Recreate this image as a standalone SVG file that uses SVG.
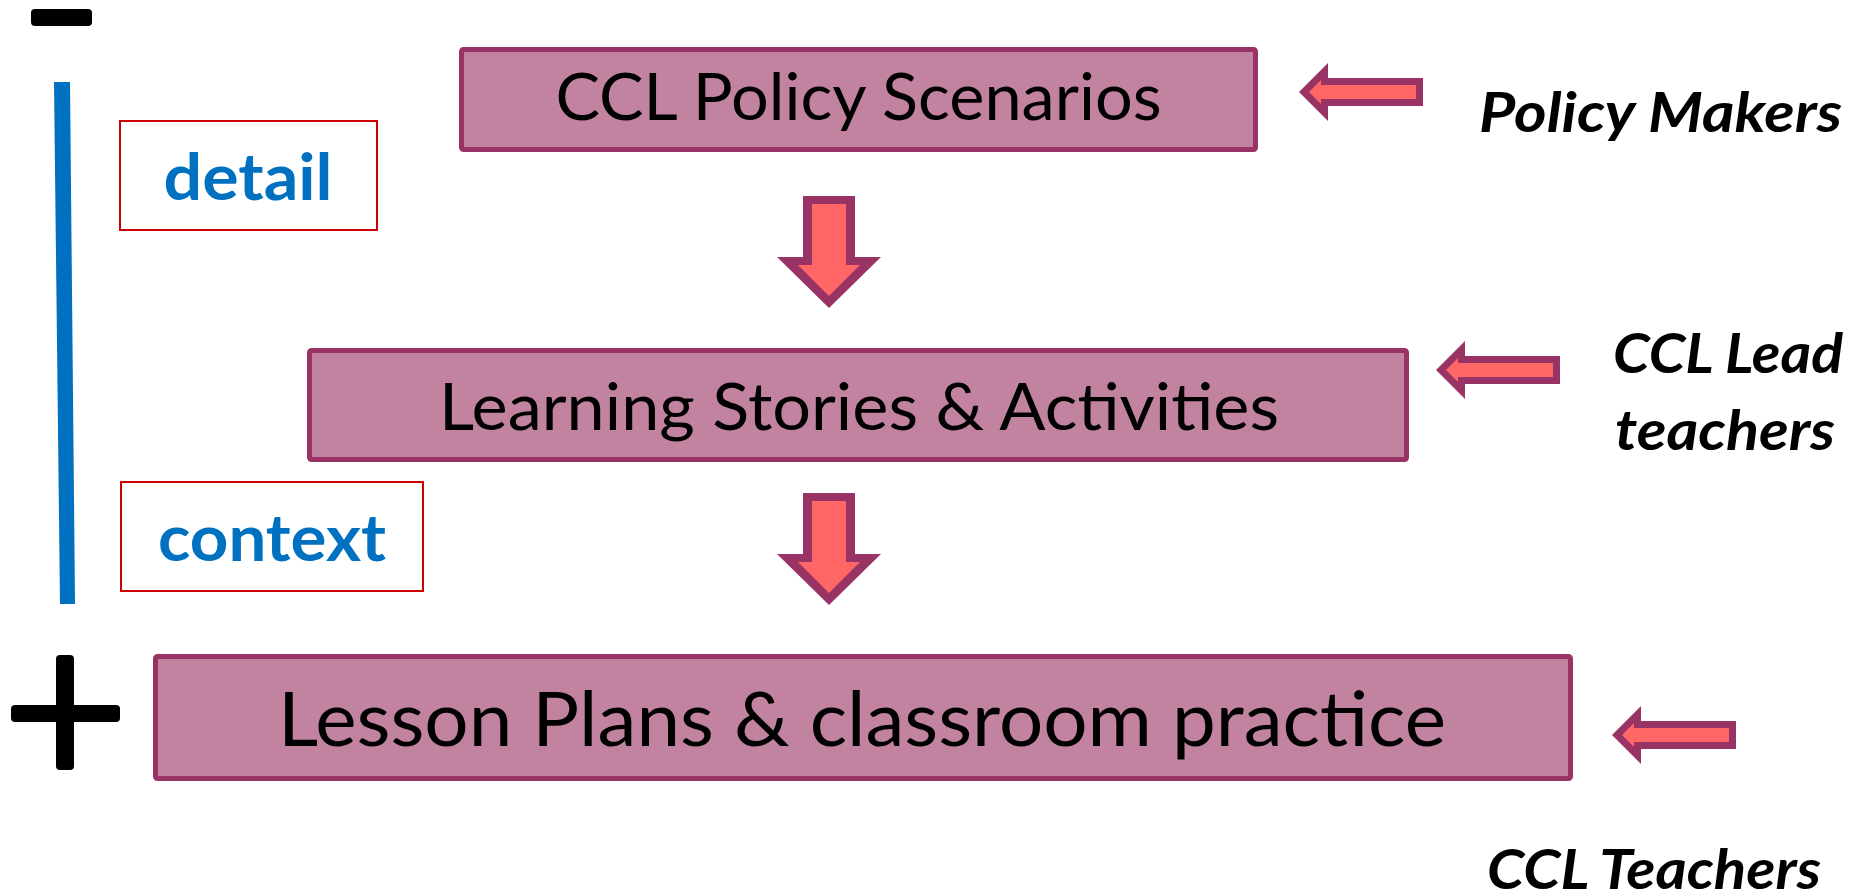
<svg xmlns="http://www.w3.org/2000/svg" xmlns:xlink="http://www.w3.org/1999/xlink" width="1858" height="894" viewBox="0 0 1858 894">
<style>
.box{fill:#C1839F;stroke:#993366;stroke-width:5}
.boxtxt{font-family:Lato,"Open Sans","Liberation Sans",sans-serif;fill:#000;text-anchor:middle}
.tag{fill:none;stroke:#CC0000;stroke-width:2}
.tagtxt{font-family:Lato,"Open Sans","Liberation Sans",sans-serif;font-weight:bold;fill:#0070C0;font-size:65px;text-anchor:middle}
.who{font-family:Lato,"Open Sans","Liberation Sans",sans-serif;font-weight:bold;font-style:italic;fill:#000;font-size:56px}
.aout{fill:#993366}
.ain{fill:#FF6666}
</style>
<defs>
<g id="downArrow">
<polygon class="aout" points="-26,0 26,0 26,61 52,61 0,112 -52,61 -26,61"/>
<polygon class="ain" points="-17,8 17,8 17,69 31,69 0,100 -31,69 -17,69"/>
</g>
<g id="leftArrow">
<polygon class="aout" points="0,0 29,-29 29,-14 124,-14 124,14 29,14 29,29"/>
<polygon class="ain" points="10,0 22,-12 22,-7 117,-7 117,7 22,7 22,12"/>
</g>
</defs>
<rect width="1858" height="894" fill="#FFFFFF"/>

<g id="scale">
<rect id="minus" x="31" y="9" width="61" height="17" rx="4" fill="#000"/>
<polygon id="scale-line" points="54,82 70,82 75,604 60,604" fill="#0070C0"/>
<g id="plus" fill="#000">
<rect x="11" y="705" width="109" height="17" rx="4"/>
<rect x="56" y="655" width="18" height="115" rx="4"/>
</g>
</g>

<g id="detail">
<rect class="tag" x="120" y="121" width="257" height="109"/>
<text class="tagtxt" x="248" y="200" textLength="169" lengthAdjust="spacingAndGlyphs">detail</text>
</g>
<g id="context">
<rect class="tag" x="121" y="482" width="302" height="109"/>
<text class="tagtxt" x="272" y="561" textLength="228" lengthAdjust="spacingAndGlyphs">context</text>
</g>

<g id="box-policy">
<rect class="box" x="461.5" y="49.5" width="794" height="100" rx="2"/>
<text class="boxtxt" x="858.5" y="120" font-size="66.5" textLength="606" lengthAdjust="spacingAndGlyphs">CCL Policy Scenarios</text>
</g>
<g id="box-learning">
<rect class="box" x="309.5" y="350.5" width="1097" height="109" rx="2"/>
<text class="boxtxt" x="859" y="430" font-size="66.5" textLength="840" lengthAdjust="spacingAndGlyphs">Learning Stories &amp; Activities</text>
</g>
<g id="box-lesson">
<rect class="box" x="155.5" y="656.5" width="1415" height="122" rx="2"/>
<text class="boxtxt" x="862" y="746" font-size="75.5" textLength="1168" lengthAdjust="spacingAndGlyphs">Lesson Plans &amp; classroom practice</text>
</g>

<g id="label-policy-makers">
<text class="who" x="1479" y="132" textLength="363" lengthAdjust="spacingAndGlyphs">Policy Makers</text>
</g>
<g id="label-lead-teachers">
<text class="who" x="1613" y="373" textLength="230" lengthAdjust="spacingAndGlyphs">CCL Lead</text>
<text class="who" x="1615" y="450" textLength="220" lengthAdjust="spacingAndGlyphs">teachers</text>
</g>
<g id="label-teachers">
<text class="who" x="1487" y="889" textLength="334" lengthAdjust="spacingAndGlyphs">CCL Teachers</text>
</g>

<g id="connectors">
<use xlink:href="#downArrow" href="#downArrow" x="829" y="196"/>
<use xlink:href="#downArrow" href="#downArrow" x="829" y="493"/>
<use xlink:href="#leftArrow" href="#leftArrow" x="1299" y="92"/>
<use xlink:href="#leftArrow" href="#leftArrow" x="1436" y="370"/>
<use xlink:href="#leftArrow" href="#leftArrow" x="1612" y="735"/>
</g>
</svg>
